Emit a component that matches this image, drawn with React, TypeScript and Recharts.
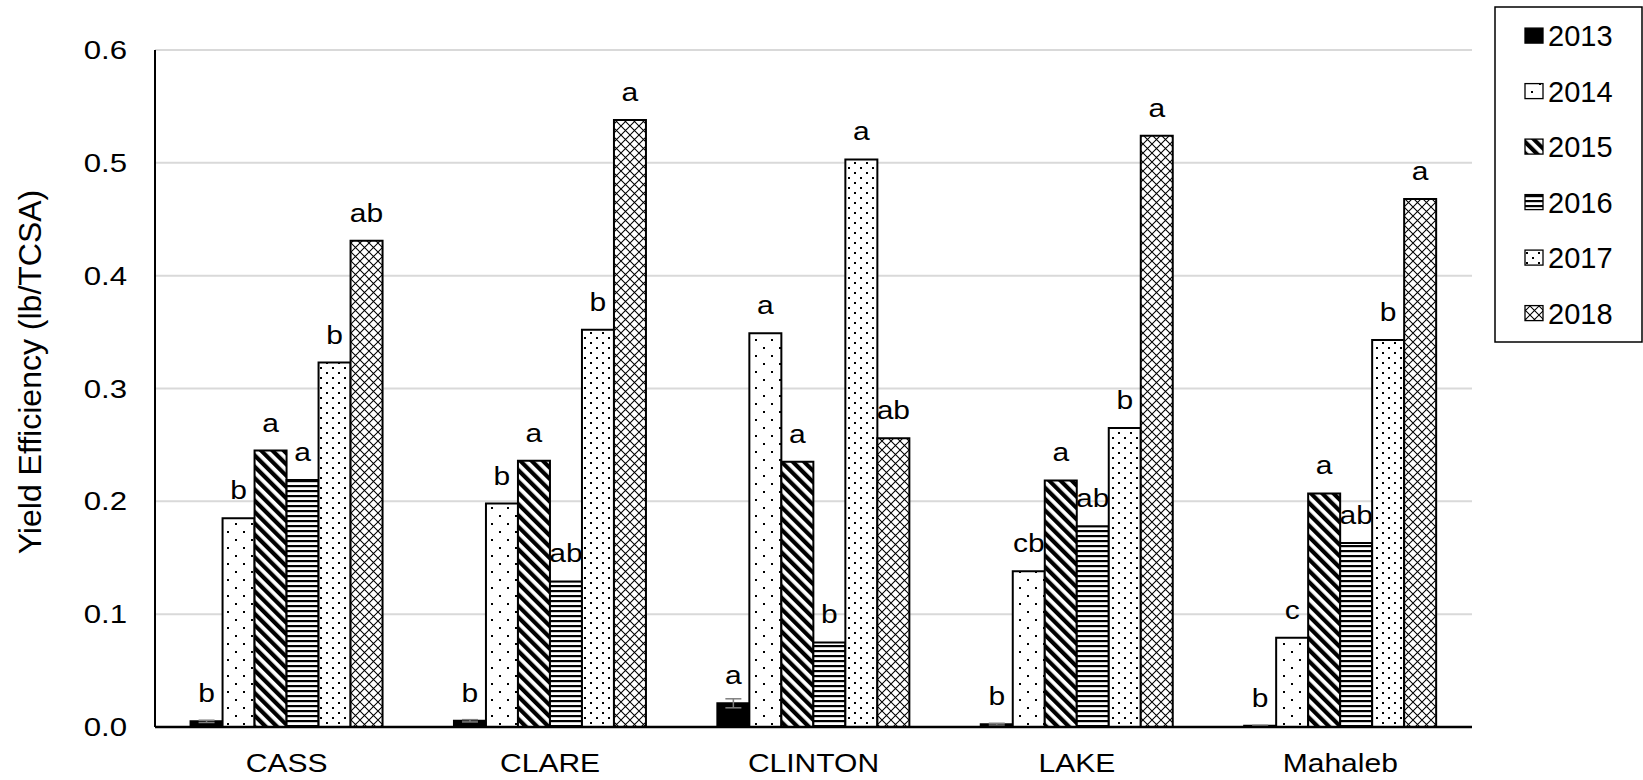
import React from 'react';
import { BarChart, Bar, XAxis, YAxis, CartesianGrid, LabelList, ErrorBar } from 'recharts';

// rootstocks on the x axis
const categories = ['CASS', 'CLARE', 'CLINTON', 'LAKE', 'Mahaleb'];
const years = ['2013', '2014', '2015', '2016', '2017', '2018'];

// yield efficiency per year (lb/TCSA)
const y2013 = [0.005, 0.0055, 0.021, 0.0025, 0.001];
const y2014 = [0.185, 0.198, 0.349, 0.138, 0.079];
const y2015 = [0.245, 0.236, 0.235, 0.2185, 0.207];
const y2016 = [0.219, 0.129, 0.075, 0.178, 0.163];
const y2017 = [0.323, 0.352, 0.503, 0.265, 0.343];
const y2018 = [0.431, 0.538, 0.256, 0.524, 0.468];
const err2013 = [0.001, 0.001, 0.004, 0.0008, 0.0005];

// mean separation letters
const sig2013 = ['b', 'b', 'a', 'b', 'b'];
const sig2014 = ['b', 'b', 'a', 'cb', 'c'];
const sig2015 = ['a', 'a', 'a', 'a', 'a'];
const sig2016 = ['a', 'ab', 'b', 'ab', 'ab'];
const sig2017 = ['b', 'b', 'a', 'b', 'b'];
const sig2018 = ['ab', 'a', 'ab', 'a', 'a'];

const yTicks = [0, 0.1, 0.2, 0.3, 0.4, 0.5, 0.6];

const seriesValues = [y2013, y2014, y2015, y2016, y2017, y2018];
const seriesLetters = [sig2013, sig2014, sig2015, sig2016, sig2017, sig2018];

const data = categories.map((name, i) => {
  const row: Record<string, any> = { name, e2013: err2013[i] };
  years.forEach((yr, k) => {
    row['y' + yr] = seriesValues[k][i];
  });
  return row;
});

const FONT = 'Liberation Sans, Arial, sans-serif';
const SX = 1.2;

function Patterns() {
  return (
    <svg width={0} height={0} style={{ position: 'absolute' }}>
      <defs>
        <pattern id="p2013" width={4} height={4} patternUnits="userSpaceOnUse">
          <rect width={4} height={4} fill="#000" />
        </pattern>
        <pattern id="p2014" width={16} height={16} patternUnits="userSpaceOnUse">
          <rect width={16} height={16} fill="#fff" />
          <rect x={3} y={3} width={2} height={2} fill="#000" />
          <rect x={11} y={11} width={2} height={2} fill="#000" />
        </pattern>
        <pattern id="p2015" width={8} height={8} patternUnits="userSpaceOnUse" patternTransform="rotate(-45)">
          <rect width={8} height={8} fill="#fff" />
          <rect width={4.2} height={8} fill="#000" />
        </pattern>
        <pattern id="p2016" width={8} height={5} patternUnits="userSpaceOnUse">
          <rect width={8} height={5} fill="#fff" />
          <rect width={8} height={2.2} fill="#000" />
        </pattern>
        <pattern id="p2017" width={12} height={10} patternUnits="userSpaceOnUse">
          <rect width={12} height={10} fill="#fff" />
          <rect x={2} y={2} width={2} height={2} fill="#000" />
          <rect x={8} y={7} width={2} height={2} fill="#000" />
        </pattern>
        <pattern id="p2018" width={9} height={9} patternUnits="userSpaceOnUse">
          <rect width={9} height={9} fill="#fff" />
          <path d="M0,0 L9,9 M9,0 L0,9" stroke="#000" strokeWidth={1.05} />
        </pattern>
      </defs>
    </svg>
  );
}

const YTick = (props: any) => {
  const { x, y, payload } = props;
  return (
    <text
      transform={`translate(${x} ${y + 9}) scale(${SX} 1)`}
      textAnchor="end"
      fontFamily={FONT}
      fontSize={26}
      fill="#000"
    >
      {Number(payload.value).toFixed(1)}
    </text>
  );
};

const XTick = (props: any) => {
  const { x, y, payload } = props;
  return (
    <text
      transform={`translate(${x} ${y + 45}) scale(${SX} 1)`}
      textAnchor="middle"
      fontFamily={FONT}
      fontSize={25}
      fill="#000"
    >
      {payload.value}
    </text>
  );
};

const makeLetterLabel = (letters: string[]) => (props: any) => {
  const { x, y, width, index } = props;
  return (
    <text
      transform={`translate(${x + width / 2} ${y - 19}) scale(${SX} 1)`}
      textAnchor="middle"
      fontFamily={FONT}
      fontSize={25}
      fill="#000"
    >
      {letters[index]}
    </text>
  );
};

function LegendBox() {
  return (
    <g>
      <rect x={1495} y={7} width={147} height={335} fill="#fff" stroke="#000" strokeWidth={1.5} />
      {years.map((yr, k) => {
        const cy = 35.6 + k * 55.5;
        return (
          <g key={yr}>
            <rect x={1525} y={cy - 7.5} width={18} height={15} fill={`url(#p${yr})`} stroke="#000" strokeWidth={1.3} />
            <text x={1548} y={cy + 10.5} fontFamily={FONT} fontSize={29} fill="#000">
              {yr}
            </text>
          </g>
        );
      })}
    </g>
  );
}

export default function App() {
  return (
    <div style={{ position: 'absolute', left: 0, top: 0, width: 1643, height: 780, background: '#fff' }}>
      <Patterns />
      <BarChart
        width={1643}
        height={780}
        data={data}
        margin={{ top: 50, right: 171, bottom: 0, left: 0 }}
        barCategoryGap="13.5%"
        barGap={0}
      >
        <CartesianGrid vertical={false} stroke="#d9d9d9" strokeWidth={2} />
        <XAxis
          dataKey="name"
          height={53}
          tickLine={false}
          tickSize={0}
          tickMargin={0}
          axisLine={{ stroke: '#000', strokeWidth: 2.5 }}
          tick={<XTick />}
          interval={0}
        />
        <YAxis
          width={155}
          domain={[0, 0.6]}
          ticks={yTicks}
          tickLine={false}
          tickSize={0}
          tickMargin={28}
          axisLine={{ stroke: '#000', strokeWidth: 2 }}
          tick={<YTick />}
        />
        {years.map((yr, k) => (
          <Bar
            key={yr}
            dataKey={'y' + yr}
            fill={`url(#p${yr})`}
            stroke="#000"
            strokeWidth={2}
            isAnimationActive={false}
          >
            {k === 0 && (
              <ErrorBar dataKey="e2013" width={8} stroke="#7f7f7f" strokeWidth={1.5} direction="y" />
            )}
            <LabelList dataKey={'y' + yr} content={makeLetterLabel(seriesLetters[k])} />
          </Bar>
        ))}
      </BarChart>
      <svg
        width={1643}
        height={780}
        style={{ position: 'absolute', left: 0, top: 0, pointerEvents: 'none' }}
      >
        <text
          transform="translate(41 372) rotate(-90)"
          textAnchor="middle"
          fontFamily={FONT}
          fontSize={32}
          fill="#000"
        >
          Yield Efficiency (lb/TCSA)
        </text>
        <LegendBox />
      </svg>
    </div>
  );
}
